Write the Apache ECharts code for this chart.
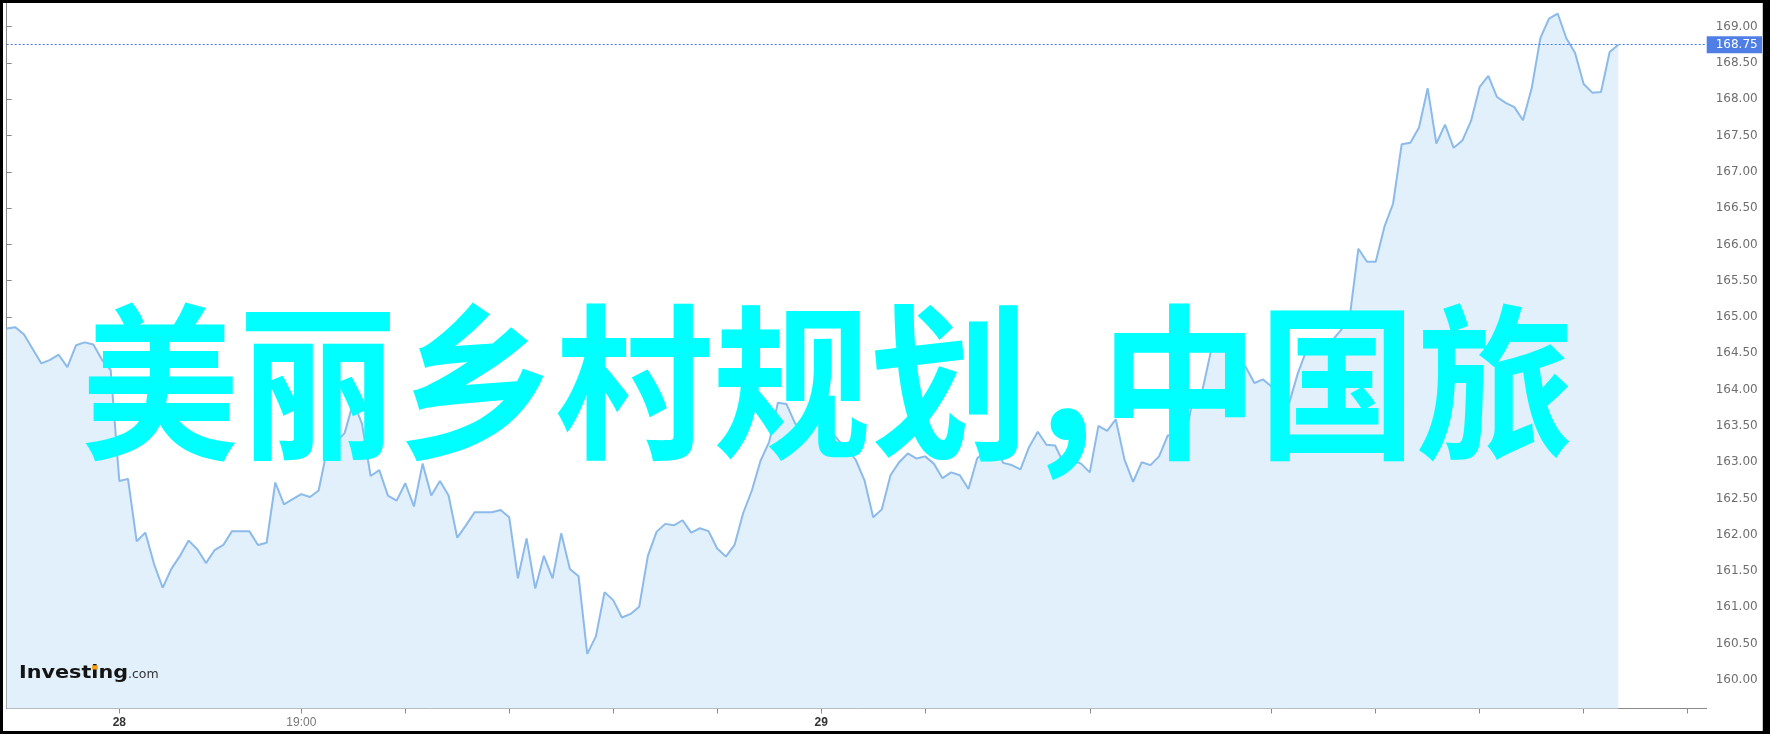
<!DOCTYPE html>
<html>
<head>
<meta charset="utf-8">
<script src="https://cdn.jsdelivr.net/npm/echarts@6/dist/echarts.min.js"></script>
<style>
  html, body { margin: 0; padding: 0; background: #000; width: 1770px; height: 734px; overflow: hidden; }
  #c { position: absolute; left: 3px; top: 3px; width: 1760px; height: 728px; background: #fff; }
  #edge { position: absolute; left: 1762px; top: 3px; width: 1px; height: 728px; background: #c8c8c8; }
</style>
</head>
<body>
<div id="c"></div>
<div id="edge"></div>
<script>
// ---- data (5-minute closes, index = bar number) ----
const prices = [
  164.84,164.86,164.76,164.56,164.36,164.41,164.48,164.31,164.61,164.65,
  164.62,164.41,164.27,162.74,162.77,161.91,162.03,161.60,161.27,161.53,
  161.71,161.92,161.80,161.61,161.79,161.86,162.05,162.05,162.05,161.86,
  161.89,162.72,162.42,162.49,162.56,162.52,162.61,163.19,163.28,163.40,
  163.83,163.53,162.81,162.89,162.54,162.47,162.71,162.39,162.98,162.54,
  162.74,162.54,161.96,162.13,162.31,162.31,162.31,162.34,162.24,161.40,
  161.95,161.26,161.71,161.40,162.02,161.53,161.43,160.36,160.60,161.21,
  161.10,160.86,160.91,161.01,161.71,162.04,162.15,162.13,162.20,162.03,
  162.09,162.05,161.81,161.70,161.86,162.30,162.61,163.02,163.28,163.82,
  163.80,163.53,163.46,163.84,163.73,163.44,163.30,163.19,163.03,162.75,
  162.24,162.35,162.82,163.00,163.12,163.05,163.08,162.98,162.78,162.86,
  162.82,162.63,163.05,163.16,163.26,162.99,162.96,162.90,163.21,163.42,
  163.24,163.23,162.98,163.03,162.98,162.86,163.50,163.43,163.59,163.04,
  162.73,163.00,162.96,163.08,163.37,163.35,163.30,163.95,163.99,164.54,
  164.60,164.55,164.45,164.31,164.09,164.14,164.04,163.95,163.81,164.22,
  164.54,164.59,164.63,164.68,164.82,165.00,165.94,165.76,165.76,166.24,
  166.56,167.38,167.40,167.61,168.15,167.39,167.65,167.33,167.43,167.70,
  168.17,168.32,168.03,167.95,167.89,167.71,168.15,168.84,169.11,169.18,
  168.84,168.64,168.21,168.09,168.10,168.65,168.75
];
const lastPrice = 168.75;

// x axis: tick bars (hourly marks) and labelled bars
const xTickBars   = [13, 34, 46, 58, 70, 82, 94, 106, 125, 146, 158, 170, 182, 194];
const xLabelBars  = [13, 34, 94];
const xLabelTexts = ['28', '19:00', '29'];
const xLabelBold  = [true, false, true];

// y axis tick values
const yTicks = [160, 160.5, 161, 161.5, 162, 162.5, 163, 163.5, 164, 164.5,
                165, 165.5, 166, 166.5, 167, 167.5, 168, 168.5, 169];

const titleParts = ['美丽乡村规划', ',', '中国旅'];
const logoMain = 'Investing';
const logoSuffix = '.com';

// ---- chart ----
const chart = echarts.init(document.getElementById('c'), null, { renderer: 'canvas' });
const seriesData = prices.map((v, i) => [i, v]);

const titleFont = 'bold 158px "Noto Sans CJK SC"';

const option = {
  animation: false,
  backgroundColor: '#fff',
  grid: { left: 3.7, right: 56.3, top: 0, bottom: 22.5, containLabel: false, outerBoundsMode: 'none' },
  xAxis: {
    type: 'value',
    min: 0,
    max: 196.2,
    axisLine: { show: true, lineStyle: { color: '#8a8a8a', width: 1 } },
    axisTick: { show: true, customValues: xTickBars, length: 5, lineStyle: { color: '#8a8a8a' } },
    splitLine: { show: false },
    axisLabel: {
      show: true,
      customValues: xLabelBars,
      margin: 8,
      formatter: function (v) {
        const k = xLabelBars.indexOf(Math.round(v));
        if (k < 0) return '';
        return (xLabelBold[k] ? '{b|' : '{n|') + xLabelTexts[k] + '}';
      },
      rich: {
        b: { fontFamily: 'Liberation Sans, Arial', fontSize: 12, fontWeight: 'bold', color: '#333' },
        n: { fontFamily: 'Liberation Sans, Arial', fontSize: 12, color: '#777' }
      }
    }
  },
  yAxis: {
    type: 'value',
    position: 'right',
    scale: true,
    min: 159.607,
    max: 169.325,
    axisLine: { show: true, lineStyle: { color: '#8a8a8a', width: 1 } },
    axisTick: { show: true, customValues: yTicks, length: 5, lineStyle: { color: '#8a8a8a' } },
    splitLine: { show: false },
    axisLabel: {
      customValues: yTicks,
      margin: 9,
      formatter: v => v.toFixed(2),
      fontFamily: 'DejaVu Sans',
      fontSize: 12,
      color: '#6e6e6e'
    }
  },
  series: [{
    type: 'line',
    data: seriesData,
    showSymbol: false,
    symbol: 'none',
    lineStyle: { color: '#8cbaea', width: 2 },
    areaStyle: { color: '#e1f0fa', opacity: 1, origin: 'start' },
    z: 2,
    markLine: {
      silent: true,
      symbol: 'none',
      animation: false,
      lineStyle: { type: [2, 2], color: '#4e7ae6', width: 1 },
      label: {
        show: true,
        position: 'end',
        distance: 0,
        formatter: p => Number(p.value).toFixed(2),
        color: '#fff',
        backgroundColor: '#4f7fe6',
        padding: [2, 5, 2, 9],
        fontFamily: 'DejaVu Sans',
        fontSize: 12,
        lineHeight: 13
      },
      data: [{ yAxis: lastPrice }]
    }
  }],
  graphic: {
    elements: [
      {
        type: 'text', x: 16, y: 670.1, scaleX: 1.22, z: 50,
        style: { text: logoMain, font: 'bold 17px "DejaVu Sans"', fill: '#141414', align: 'left', verticalAlign: 'middle' }
      },
      {
        type: 'rect', z: 51,
        shape: { x: 89, y: 662.3, width: 5.8, height: 4.2 },
        style: { fill: '#f5a21e' }
      },
      {
        type: 'text', x: 125, y: 671.8, z: 50,
        style: { text: logoSuffix, font: '12.5px "DejaVu Sans"', fill: '#333', align: 'left', verticalAlign: 'middle' }
      },
      {
        type: 'text', x: 78, y: 379.5, scaleY: 1.06, z: 100,
        style: { text: titleParts[0], font: titleFont, fill: '#00ffff', align: 'left', verticalAlign: 'middle' }
      },
      {
        type: 'text', x: 1035, y: 368, scaleY: 1.04, z: 100,
        style: { text: titleParts[1], font: 'bold 176px "Noto Sans CJK SC"', fill: '#00ffff', align: 'left', verticalAlign: 'middle' }
      },
      {
        type: 'text', x: 1097.5, y: 379.5, scaleY: 1.06, z: 100,
        style: { text: titleParts[2], font: titleFont, fill: '#00ffff', align: 'left', verticalAlign: 'middle' }
      }
    ]
  }
};
chart.setOption(option);
</script>
</body>
</html>
